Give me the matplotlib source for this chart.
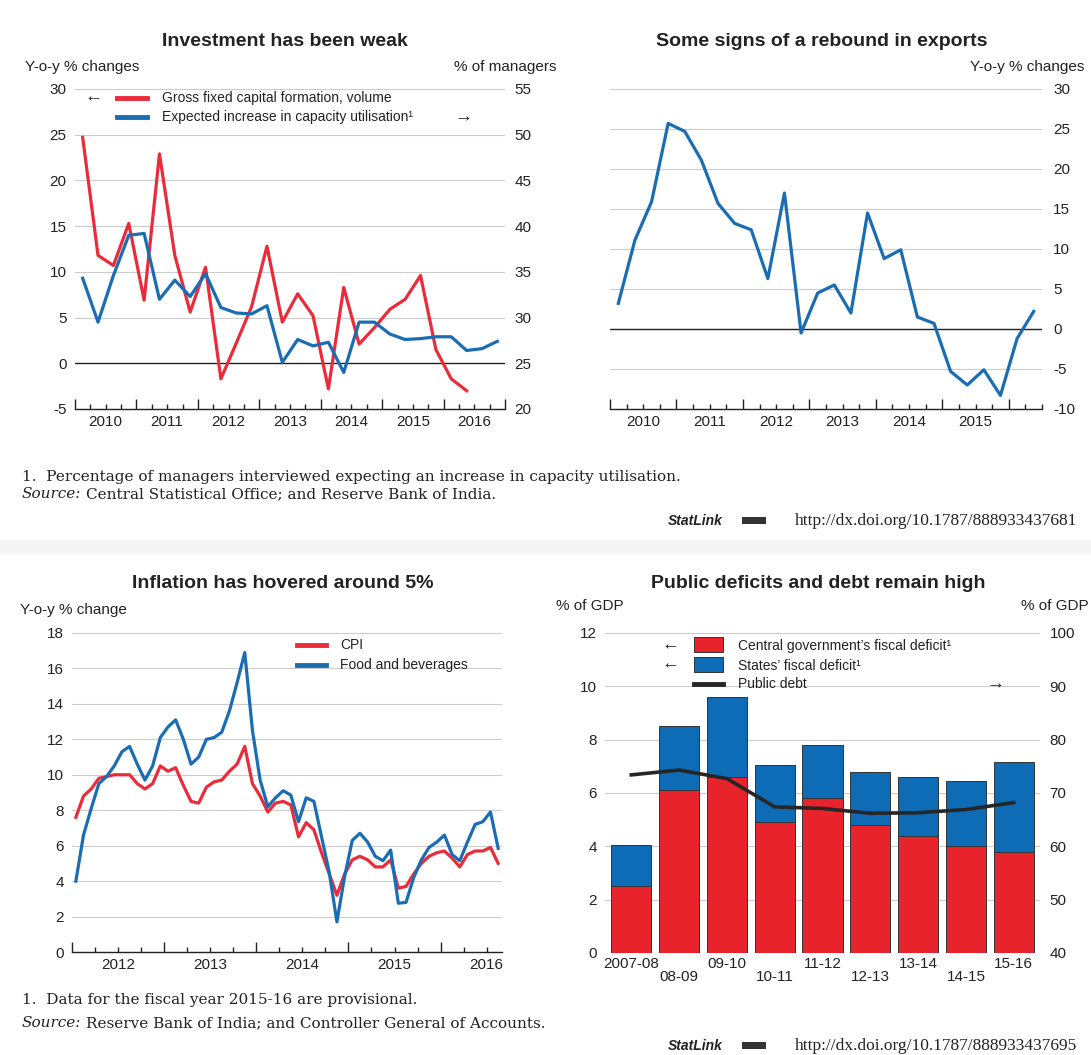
import matplotlib.pyplot as plt
import matplotlib.transforms as mtransforms
from matplotlib.patches import Rectangle

plt.rcParams['font.family'] = ['Liberation Sans', 'DejaVu Sans']
plt.rcParams['axes.unicode_minus'] = False
plt.rcParams['text.color'] = '#222222'
plt.rcParams['xtick.color'] = '#222222'
plt.rcParams['ytick.color'] = '#222222'

RED = '#EC2B3A'
BLUE = '#1A6DB3'
BAR_RED = '#E8232C'
BAR_BLUE = '#0D6CB5'
GRID = '#CCCCCC'

# --- investment panel: quarterly, 2010Q1 onwards
gfcf = [24.7, 11.8, 10.7, 15.3, 6.9, 22.9, 11.8, 5.6, 10.5, -1.7, 2.2, 6.2, 12.8,
        4.5, 7.6, 5.2, -2.8, 8.3, 2.1, 3.9, 5.9, 7.0, 9.6, 1.5, -1.7, -3.0]
capacity = [34.3, 29.5, 34.6, 39.0, 39.2, 32.0, 34.1, 32.3, 34.8, 31.1, 30.5, 30.4,
            31.3, 25.1, 27.6, 26.9, 27.3, 24.0, 29.5, 29.5, 28.2, 27.6, 27.7, 27.9,
            27.9, 26.4, 26.6, 27.4]

# --- exports panel: quarterly, 2010Q1 onwards
exports = [3.2, 11.1, 15.9, 25.7, 24.7, 21.1, 15.7, 13.2, 12.4, 6.3, 17.0, -0.5, 4.5,
           5.5, 2.0, 14.5, 8.8, 9.9, 1.5, 0.7, -5.3, -7.0, -5.1, -8.3, -1.2, 2.2]

# --- inflation panel: monthly, Jan 2012 - Aug 2016
cpi = [7.6, 8.8, 9.2, 9.8, 9.9, 10.0, 10.0, 10.0, 9.5, 9.2, 9.5, 10.5,
       10.2, 10.4, 9.4, 8.5, 8.4, 9.3, 9.6, 9.7, 10.2, 10.6, 11.6, 9.5,
       8.8, 7.9, 8.4, 8.5, 8.3, 6.5, 7.3, 6.9, 5.6, 4.4, 3.2, 4.4,
       5.2, 5.4, 5.2, 4.8, 4.8, 5.2, 3.6, 3.7, 4.4, 5.0, 5.4, 5.6,
       5.7, 5.3, 4.8, 5.5, 5.7, 5.7, 5.9, 5.0]
food = [4.0, 6.6, 8.1, 9.5, 9.9, 10.5, 11.3, 11.6, 10.6, 9.7, 10.5, 12.1,
        12.7, 13.1, 12.0, 10.6, 11.0, 12.0, 12.1, 12.4, 13.6, 15.2, 16.9, 12.5,
        9.7, 8.2, 8.7, 9.1, 8.85, 7.35, 8.7, 8.5, 6.5, 4.5, 1.7, 4.25,
        6.3, 6.7, 6.2, 5.4, 5.15, 5.75, 2.75, 2.8, 4.2, 5.2, 5.9, 6.2,
        6.6, 5.5, 5.15, 6.2, 7.2, 7.35, 7.9, 5.85]

# --- fiscal panel
fiscal_years = ['2007-08', '08-09', '09-10', '10-11', '11-12', '12-13', '13-14', '14-15', '15-16']
central_deficit = [2.5, 6.1, 6.6, 4.9, 5.8, 4.8, 4.4, 4.0, 3.8]
states_deficit = [1.55, 2.4, 3.0, 2.15, 2.0, 2.0, 2.2, 2.45, 3.35]
public_debt = [73.4, 74.3, 72.7, 67.4, 67.1, 66.2, 66.3, 66.9, 68.2]

W, H = 1091, 1055
fig = plt.figure(figsize=(W / 100, H / 100), dpi=100)


def px_axes(x0, y0, x1, y1):
    return fig.add_axes([x0 / W, 1 - y1 / H, (x1 - x0) / W, (y1 - y0) / H])


def ftext(x, y, s, **kw):
    kw.setdefault('va', 'center')
    return fig.text(x / W, 1 - y / H, s, **kw)


def clean(ax, bottom=True):
    for side in ['left', 'right', 'top']:
        ax.spines[side].set_visible(False)
    ax.spines['bottom'].set_visible(bottom)
    ax.spines['bottom'].set_color('#222222')
    ax.spines['bottom'].set_linewidth(1.0)


def time_axis(ax, start, end, label_years, per_year=4):
    ax.set_xlim(start, end)
    ax.set_xticks(range(int(start), int(end) + 1))
    ax.set_xticks([start + k / per_year for k in range(int((end - start) * per_year) + 1)], minor=True)
    ax.tick_params(axis='x', which='major', direction='in', length=7, width=1, labelbottom=False)
    ax.tick_params(axis='x', which='minor', direction='in', length=3.5, width=1)
    trans = ax.get_xaxis_transform() + mtransforms.ScaledTranslation(0, -4 / 72, fig.dpi_scale_trans)
    for yr in label_years:
        ax.text(yr + 0.5, 0, str(yr), transform=trans, ha='center', va='top', fontsize=11)


def quarters(n, start):
    return [start + (i + 0.5) / 4 for i in range(n)]


# ---------------- Panel 1: investment ----------------
ax1 = px_axes(75, 89, 505, 409)
clean(ax1)
ax1.set_ylim(-5, 30)
ax1.set_yticks(range(-5, 31, 5))
ax1.grid(axis='y', color=GRID, lw=0.8)
ax1.set_axisbelow(True)
ax1.axhline(0, color='#222222', lw=1)
ax1.tick_params(axis='y', length=0, labelsize=11, pad=6)
time_axis(ax1, 2010, 2017, range(2010, 2017))
ax1.plot(quarters(len(gfcf), 2010), gfcf, color=RED, lw=2.3)

ax1r = ax1.twinx()
clean(ax1r, bottom=False)
ax1r.set_ylim(20, 55)
ax1r.set_yticks(range(20, 56, 5))
ax1r.tick_params(axis='y', length=0, labelsize=11, pad=7)
ax1r.plot(quarters(len(capacity), 2010), capacity, color=BLUE, lw=2.3)

ax1r.plot([2010.68, 2011.18], [54.0, 54.0], color=RED, lw=3.5)
ax1r.plot([2010.68, 2011.18], [51.9, 51.9], color=BLUE, lw=3.5)
ax1r.text(2011.42, 54.0, 'Gross fixed capital formation, volume', va='center', fontsize=10)
ax1r.text(2011.42, 51.9, 'Expected increase in capacity utilisation\u00b9', va='center', fontsize=10)
ax1r.text(2010.3, 54.1, '\u2190', ha='center', va='center', fontsize=13)
ax1r.text(2016.33, 51.9, '\u2192', ha='center', va='center', fontsize=13)

ftext(285, 42, 'Investment has been weak', ha='center', fontsize=14, fontweight='bold')
ftext(25, 67, 'Y-o-y % changes', ha='left', fontsize=11)
ftext(557, 67, '% of managers', ha='right', fontsize=11)

# ---------------- Panel 2: exports ----------------
ax2 = px_axes(610, 89, 1042, 409)
clean(ax2)
ax2.set_ylim(-10, 30)
ax2.set_yticks(range(-10, 31, 5))
ax2.yaxis.tick_right()
ax2.grid(axis='y', color=GRID, lw=0.8)
ax2.set_axisbelow(True)
ax2.axhline(0, color='#222222', lw=1)
ax2.tick_params(axis='y', length=0, labelsize=11, pad=8)
time_axis(ax2, 2010, 2016.5, range(2010, 2016))
ax2.plot(quarters(len(exports), 2010), exports, color=BLUE, lw=2.3)

ftext(822, 42, 'Some signs of a rebound in exports', ha='center', fontsize=14, fontweight='bold')
ftext(970, 67, 'Y-o-y % changes', ha='left', fontsize=11)

# ---------------- Panel 3: inflation ----------------
ax3 = px_axes(72, 633, 502, 952)
clean(ax3)
ax3.set_ylim(0, 18)
ax3.set_yticks(range(0, 19, 2))
ax3.grid(axis='y', color=GRID, lw=0.8)
ax3.set_axisbelow(True)
ax3.tick_params(axis='y', length=0, labelsize=11, pad=6)
time_axis(ax3, 2012, 2012 + 56 / 12, range(2012, 2017))
months = [2012 + (i + 0.5) / 12 for i in range(len(cpi))]
ax3.plot(months, cpi, color=RED, lw=2.3)
ax3.plot(months, food, color=BLUE, lw=2.3)
ax3.plot([2014.44, 2014.76], [17.3, 17.3], color=RED, lw=3.5)
ax3.plot([2014.44, 2014.76], [16.17, 16.17], color=BLUE, lw=3.5)
ax3.text(2014.91, 17.3, 'CPI', va='center', fontsize=10)
ax3.text(2014.91, 16.17, 'Food and beverages', va='center', fontsize=10)

ftext(283, 584, 'Inflation has hovered around 5%', ha='center', fontsize=14, fontweight='bold')
ftext(20, 610, 'Y-o-y % change', ha='left', fontsize=11)

# ---------------- Panel 4: fiscal ----------------
ax4 = px_axes(605, 633, 1040, 953)
clean(ax4, bottom=False)
ax4.set_xlim(-0.55, 8.55)
ax4.set_ylim(0, 12)
ax4.set_yticks(range(0, 13, 2))
ax4.grid(axis='y', color=GRID, lw=0.8)
ax4.set_axisbelow(True)
ax4.tick_params(axis='y', length=0, labelsize=11, pad=6)
ax4.tick_params(axis='x', length=0, labelbottom=False)
xs = list(range(len(fiscal_years)))
ax4.bar(xs, central_deficit, width=0.84, color=BAR_RED, edgecolor='#333333', lw=0.7)
ax4.bar(xs, states_deficit, width=0.84, bottom=central_deficit, color=BAR_BLUE,
        edgecolor='#333333', lw=0.7)
for i, lab in enumerate(fiscal_years):
    off = -3 if i % 2 == 0 else -12.5
    tr = ax4.get_xaxis_transform() + mtransforms.ScaledTranslation(0, off / 72, fig.dpi_scale_trans)
    ax4.text(i, 0, lab, transform=tr, ha='center', va='top', fontsize=11)

ax4r = ax4.twinx()
clean(ax4r, bottom=False)
ax4r.set_ylim(40, 100)
ax4r.set_yticks(range(40, 101, 10))
ax4r.tick_params(axis='y', length=0, labelsize=11, pad=7)
ax4r.plot(xs, public_debt, color='#262626', lw=2.6, solid_joinstyle='round')

# key, placed in the units of the right-hand scale
ax4r.add_patch(Rectangle((1.32, 96.4), 0.6, 2.8, facecolor=BAR_RED, edgecolor='#333333', lw=0.7))
ax4r.add_patch(Rectangle((1.32, 92.7), 0.6, 2.8, facecolor=BAR_BLUE, edgecolor='#333333', lw=0.7))
ax4r.plot([1.32, 1.92], [90.4, 90.4], color='#262626', lw=3.5)
ax4r.text(2.24, 97.6, 'Central government\u2019s fiscal deficit\u00b9', va='center', fontsize=10)
ax4r.text(2.24, 93.9, 'States\u2019 fiscal deficit\u00b9', va='center', fontsize=10)
ax4r.text(2.24, 90.5, 'Public debt', va='center', fontsize=10)
ax4r.text(0.81, 97.8, '\u2190', ha='center', va='center', fontsize=13)
ax4r.text(0.81, 94.1, '\u2190', ha='center', va='center', fontsize=13)
ax4r.text(7.62, 90.5, '\u2192', ha='center', va='center', fontsize=13)

ftext(818, 584, 'Public deficits and debt remain high', ha='center', fontsize=14, fontweight='bold')
ftext(556, 606, '% of GDP', ha='left', fontsize=11)
ftext(1089, 606, '% of GDP', ha='right', fontsize=11)

# ---------------- notes ----------------
serif = ['DejaVu Serif']
fig.patches.append(Rectangle((0, 1 - 554 / H), 1, 14 / H, transform=fig.transFigure,
                             facecolor='#F5F5F5', edgecolor='none', zorder=-5))

ftext(22, 477, '1.  Percentage of managers interviewed expecting an increase in capacity utilisation.',
      family=serif, fontsize=11)
ftext(22, 494, 'Source:', family=serif, fontsize=11, style='italic')
ftext(86, 494, 'Central Statistical Office; and Reserve Bank of India.', family=serif, fontsize=11)
ftext(668, 521, 'StatLink', fontsize=10, style='italic', fontweight='bold')
ftext(795, 521, 'http://dx.doi.org/10.1787/888933437681', family=['Liberation Serif'], fontsize=12.5)

ftext(22, 1000, '1.  Data for the fiscal year 2015-16 are provisional.', family=serif, fontsize=11)
ftext(22, 1023, 'Source:', family=serif, fontsize=11, style='italic')
ftext(86, 1023, 'Reserve Bank of India; and Controller General of Accounts.', family=serif, fontsize=11)
ftext(668, 1046, 'StatLink', fontsize=10, style='italic', fontweight='bold')
ftext(795, 1046, 'http://dx.doi.org/10.1787/888933437695', family=['Liberation Serif'], fontsize=12.5)

for y in (521, 1046):
    fig.patches.append(Rectangle((742 / W, 1 - (y + 3) / H), 24 / W, 7 / H, transform=fig.transFigure,
                                 facecolor='#333333', edgecolor='none'))

fig.savefig('out.png', dpi=100)
